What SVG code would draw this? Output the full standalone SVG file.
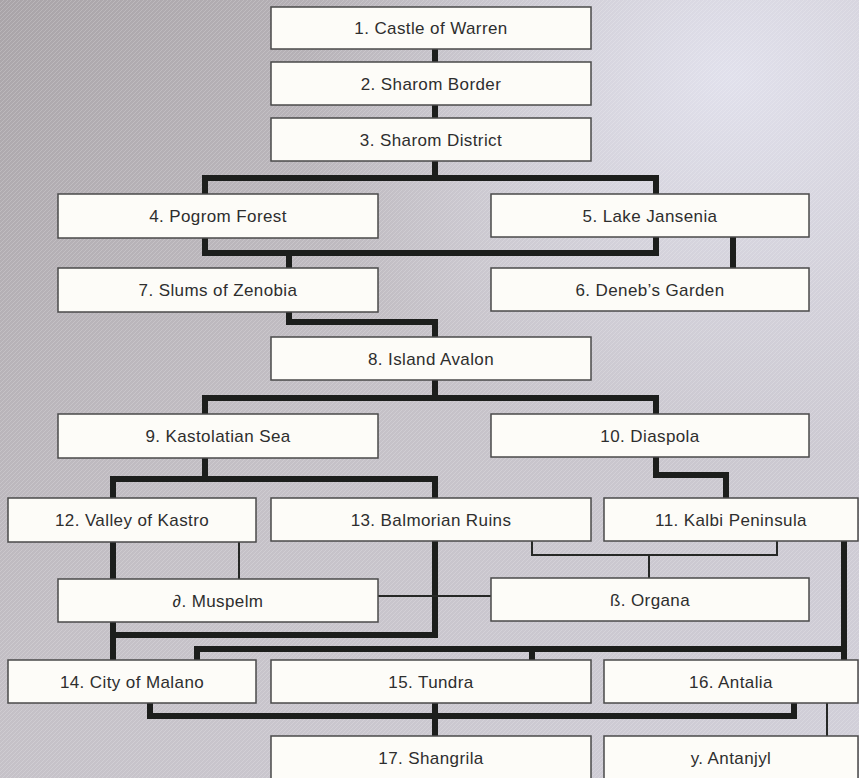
<svg xmlns="http://www.w3.org/2000/svg" width="859" height="778" viewBox="0 0 859 778">
<defs>
<linearGradient id="bg" x1="0" y1="0" x2="1" y2="1">
<stop offset="0" stop-color="#a9a4a8"/>
<stop offset="0.45" stop-color="#c4c0c6"/>
<stop offset="1" stop-color="#d2d0da"/>
</linearGradient>
<radialGradient id="hl" cx="0.85" cy="0.1" r="0.5">
<stop offset="0" stop-color="#e4e4f0" stop-opacity="0.9"/>
<stop offset="1" stop-color="#e4e4f0" stop-opacity="0"/>
</radialGradient>
<pattern id="tex" width="4" height="4" patternUnits="userSpaceOnUse">
<path d="M0,4 L4,0" stroke="#ffffff" stroke-opacity="0.18" stroke-width="1"/>
</pattern>
<style>
.box{fill:#fdfcf8;stroke:#4a4a4a;stroke-width:1.5}
.lbl{font-family:"Liberation Sans",Arial,sans-serif;font-size:17px;letter-spacing:0.4px;fill:#2e2e2e;text-anchor:middle}
.thick{fill:none;stroke:#1c1e1c;stroke-width:6;stroke-linejoin:miter;stroke-linecap:square}
.thin{fill:none;stroke:#262826;stroke-width:2;stroke-linecap:butt}
</style>
</defs>
<rect width="859" height="778" fill="url(#bg)"/>
<rect width="859" height="778" fill="url(#hl)"/>
<rect width="859" height="778" fill="url(#tex)"/>
<g id="connectors">
<path class="thick" d="M435,49 V178"/>
<path class="thick" d="M205,194 V178 H656 V194"/>
<path class="thick" d="M205,238 V253 H656 V237"/>
<path class="thick" d="M289,253 V268"/>
<path class="thick" d="M733,237 V268"/>
<path class="thick" d="M289,312 V322 H435 V337"/>
<path class="thick" d="M435,380 V398"/>
<path class="thick" d="M205,414 V398 H656 V414"/>
<path class="thick" d="M205,458 V479"/>
<path class="thick" d="M113,498 V479 H435 V498"/>
<path class="thick" d="M113,541 V660"/>
<path class="thick" d="M435,541 V635 H113"/>
<path class="thick" d="M656,457 V475 H726 V498"/>
<path class="thick" d="M844,541 V660"/>
<path class="thick" d="M844,649 H197 V660"/>
<path class="thick" d="M532,649 V660"/>
<path class="thick" d="M150,703 V716 H794 V703"/>
<path class="thick" d="M435,703 V736"/>
<path class="thin" d="M239,542 V579"/>
<path class="thin" d="M532,541 V555 H777 V541"/>
<path class="thin" d="M649,555 V578"/>
<path class="thin" d="M378,596 H491"/>
<path class="thin" d="M827,703 V736"/>
</g>
<g id="n1"><rect class="box" x="271" y="7" width="320" height="42"/><text class="lbl" x="431" y="34">1. Castle of Warren</text></g>
<g id="n2"><rect class="box" x="271" y="62" width="320" height="43"/><text class="lbl" x="431" y="90">2. Sharom Border</text></g>
<g id="n3"><rect class="box" x="271" y="118" width="320" height="43"/><text class="lbl" x="431" y="146">3. Sharom District</text></g>
<g id="n4"><rect class="box" x="58" y="194" width="320" height="44"/><text class="lbl" x="218" y="222">4. Pogrom Forest</text></g>
<g id="n5"><rect class="box" x="491" y="194" width="318" height="43"/><text class="lbl" x="650" y="222">5. Lake Jansenia</text></g>
<g id="n7"><rect class="box" x="58" y="268" width="320" height="44"/><text class="lbl" x="218" y="296">7. Slums of Zenobia</text></g>
<g id="n6"><rect class="box" x="491" y="268" width="318" height="43"/><text class="lbl" x="650" y="296">6. Deneb’s Garden</text></g>
<g id="n8"><rect class="box" x="271" y="337" width="320" height="43"/><text class="lbl" x="431" y="365">8. Island Avalon</text></g>
<g id="n9"><rect class="box" x="58" y="414" width="320" height="44"/><text class="lbl" x="218" y="442">9. Kastolatian Sea</text></g>
<g id="n10"><rect class="box" x="491" y="414" width="318" height="43"/><text class="lbl" x="650" y="442">10. Diaspola</text></g>
<g id="n12"><rect class="box" x="8" y="498" width="248" height="44"/><text class="lbl" x="132" y="526">12. Valley of Kastro</text></g>
<g id="n13"><rect class="box" x="271" y="498" width="320" height="43"/><text class="lbl" x="431" y="526">13. Balmorian Ruins</text></g>
<g id="n11"><rect class="box" x="604" y="498" width="254" height="43"/><text class="lbl" x="731" y="526">11. Kalbi Peninsula</text></g>
<g id="na"><rect class="box" x="58" y="579" width="320" height="43"/><text class="lbl" x="218" y="607">∂. Muspelm</text></g>
<g id="nb"><rect class="box" x="491" y="578" width="318" height="43"/><text class="lbl" x="650" y="606">ß. Organa</text></g>
<g id="n14"><rect class="box" x="8" y="660" width="248" height="43"/><text class="lbl" x="132" y="688">14. City of Malano</text></g>
<g id="n15"><rect class="box" x="271" y="660" width="320" height="43"/><text class="lbl" x="431" y="688">15. Tundra</text></g>
<g id="n16"><rect class="box" x="604" y="660" width="254" height="43"/><text class="lbl" x="731" y="688">16. Antalia</text></g>
<g id="n17"><rect class="box" x="271" y="736" width="320" height="44"/><text class="lbl" x="431" y="764">17. Shangrila</text></g>
<g id="ny"><rect class="box" x="604" y="736" width="254" height="44"/><text class="lbl" x="731" y="764">y. Antanjyl</text></g>
</svg>
